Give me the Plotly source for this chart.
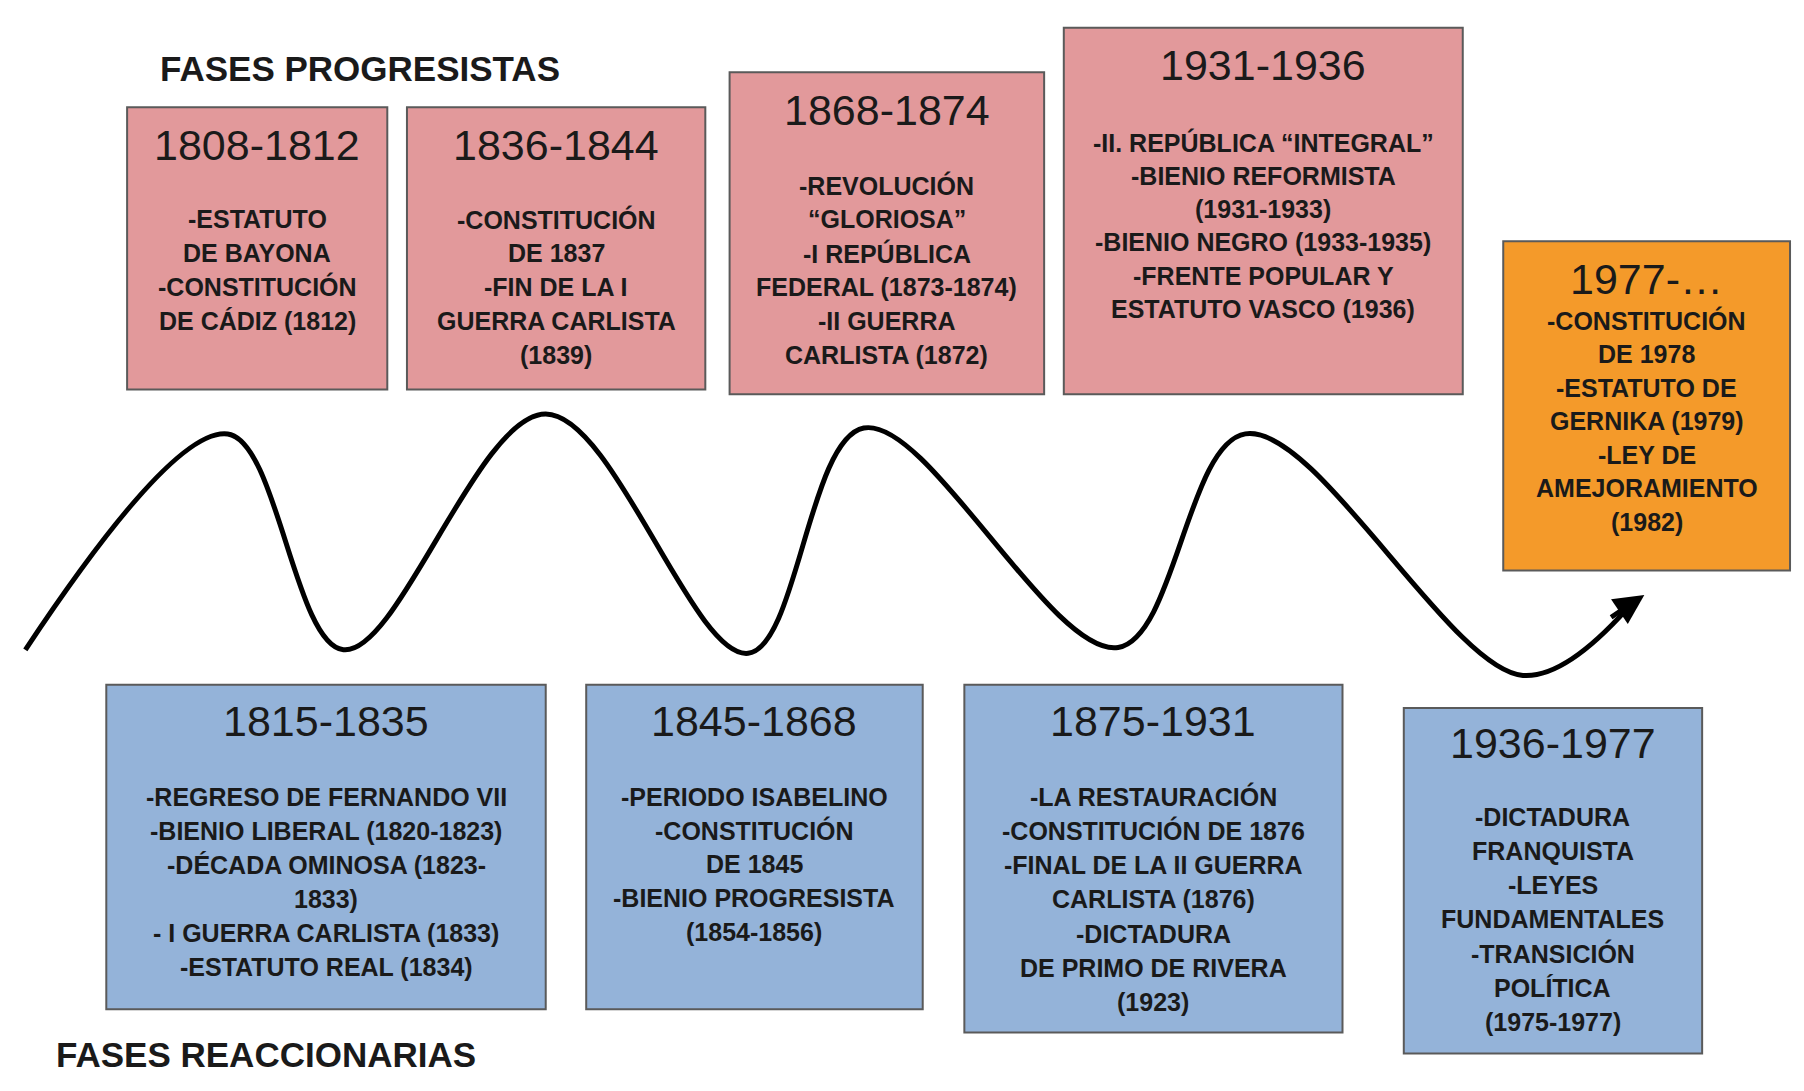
import plotly.graph_objects as go

# Diagram content
red_titles = ["1808-1812", "1836-1844", "1868-1874", "1931-1936"]
red_bodies = [
    ["-ESTATUTO", "DE BAYONA", "-CONSTITUCIÓN", "DE CÁDIZ (1812)"],
    ["-CONSTITUCIÓN", "DE 1837", "-FIN DE LA I", "GUERRA CARLISTA", "(1839)"],
    ["-REVOLUCIÓN", "“GLORIOSA”", "-I REPÚBLICA", "FEDERAL (1873-1874)", "-II GUERRA", "CARLISTA (1872)"],
    ["-II. REPÚBLICA “INTEGRAL”", "-BIENIO REFORMISTA", "(1931-1933)", "-BIENIO NEGRO (1933-1935)", "-FRENTE POPULAR Y", "ESTATUTO VASCO (1936)"],
]
orange_title = "1977-…"
orange_body = ["-CONSTITUCIÓN", "DE 1978", "-ESTATUTO DE", "GERNIKA (1979)", "-LEY DE", "AMEJORAMIENTO", "(1982)"]
blue_titles = ["1815-1835", "1845-1868", "1875-1931", "1936-1977"]
blue_bodies = [
    ["-REGRESO DE FERNANDO VII", "-BIENIO LIBERAL (1820-1823)", "-DÉCADA OMINOSA (1823-", "1833)", "- I GUERRA CARLISTA (1833)", "-ESTATUTO REAL (1834)"],
    ["-PERIODO ISABELINO", "-CONSTITUCIÓN", "DE 1845", "-BIENIO PROGRESISTA", "(1854-1856)"],
    ["-LA RESTAURACIÓN", "-CONSTITUCIÓN DE 1876", "-FINAL DE LA II GUERRA", "CARLISTA (1876)", "-DICTADURA", "DE PRIMO DE RIVERA", "(1923)"],
    ["-DICTADURA", "FRANQUISTA", "-LEYES", "FUNDAMENTALES", "-TRANSICIÓN", "POLÍTICA", "(1975-1977)"],
]
# wave path
wave_x = [15, 190, 290, 465, 640, 740, 960, 1070, 1310, 1400]
wave_y = [550, 365, 550, 348, 553, 360, 548, 365, 572, 515]

# layout geometry (x0, x1, y0, y1, title_y, body_first_y, line_step)
red_geo = [(103, 328, 85, 327, 117, 181, 29), (345, 603, 85, 327, 117, 181, 29),
           (624, 896, 55, 331, 87, 152, 29), (913, 1258, 17, 331, 49, 115, 28.6)]
orange_geo = (1293, 1541, 200, 482, 232, 268, 28.7)
blue_geo = [(85, 465, 580, 858, 611, 676, 29.2), (500, 791, 580, 858, 611, 676, 29),
            (827, 1154, 580, 878, 611, 676, 29.3), (1207, 1465, 600, 896, 630, 693, 29.3)]

RED, BLUE, ORANGE = "#e2999b", "#94b3d9", "#f49a2a"
FONT = "Liberation Sans"

fig = go.Figure()
fig.add_trace(go.Scatter(x=wave_x, y=wave_y, mode="lines",
                         line=dict(shape="spline", smoothing=1.0, color="black", width=5),
                         hoverinfo="skip"))
anns, shapes = [], []

def box(geo, color, title, body):
    x0, x1, y0, y1, ty, by, step = geo
    shapes.append(dict(type="rect", x0=x0, x1=x1, y0=y0, y1=y1, fillcolor=color,
                       line=dict(color="#5a5a5a", width=2), layer="below"))
    cx = (x0 + x1) / 2
    anns.append(dict(x=cx, y=ty, text=title, showarrow=False,
                     font=dict(family=FONT, size=43, color="#1a1a1a")))
    for i, line in enumerate(body):
        anns.append(dict(x=cx, y=by + i * step, text="<b>" + line + "</b>", showarrow=False,
                         font=dict(family=FONT, size=25, color="#1a1a1a")))

for g, t, b in zip(red_geo, red_titles, red_bodies):
    box(g, RED, t, b)
box(orange_geo, ORANGE, orange_title, orange_body)
for g, t, b in zip(blue_geo, blue_titles, blue_bodies):
    box(g, BLUE, t, b)

anns.append(dict(x=1415, y=503, ax=1385, ay=523, xref="x", yref="y", axref="x", ayref="y",
                 text="", showarrow=True, arrowhead=2, arrowsize=1.2, arrowwidth=5, arrowcolor="black"))
anns.append(dict(x=130, y=52, text="<b>FASES PROGRESISTAS</b>", showarrow=False, xanchor="left",
                 font=dict(family=FONT, size=35, color="#1a1a1a")))
anns.append(dict(x=40, y=897, text="<b>FASES REACCIONARIAS</b>", showarrow=False, xanchor="left",
                 font=dict(family=FONT, size=35, color="#1a1a1a")))

fig.update_layout(width=1804, height=1091, margin=dict(l=0, r=0, t=0, b=0),
                  plot_bgcolor="white", paper_bgcolor="white", showlegend=False,
                  shapes=shapes, annotations=anns,
                  xaxis=dict(range=[0, 1560], visible=False, fixedrange=True),
                  yaxis=dict(range=[935, 0], visible=False, fixedrange=True))
fig.write_html("out.html")
